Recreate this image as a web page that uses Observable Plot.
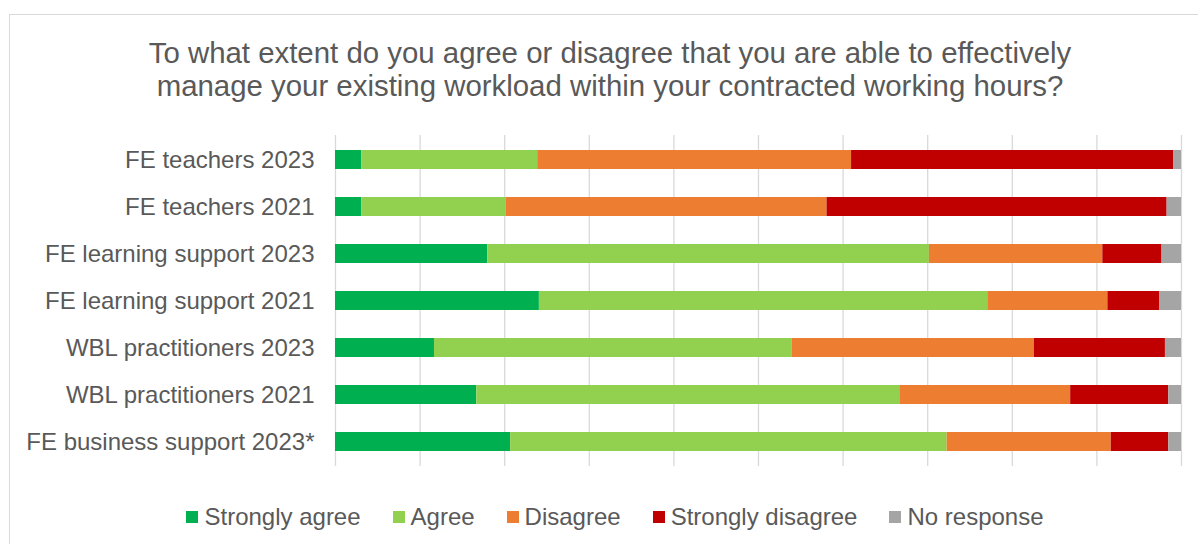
<!DOCTYPE html>
<html>
<head>
<meta charset="utf-8">
<script src="https://cdn.jsdelivr.net/npm/d3@7"></script>
<script src="https://cdn.jsdelivr.net/npm/@observablehq/plot@0.6"></script>
<style>
  html, body { margin: 0; padding: 0; background: #fff; }
  body { width: 1198px; height: 544px; position: relative; overflow: hidden; font-family: "Liberation Sans", Arial, sans-serif; color: #595959; }
  #frame { position: absolute; left: 9px; top: 14px; width: 1300px; height: 700px; border: 1px solid #d9d9d9; box-sizing: border-box; }
  #title { position: absolute; left: 9px; width: 1202px; top: 36px; text-align: center; font-size: 29.4px; line-height: 33.4px; color: #595959; white-space: nowrap; }
  #chart { position: absolute; left: 0; top: 0; }
  #legend { position: absolute; left: 0; width: 1230px; top: 503px; display: flex; justify-content: center; font-size: 24px; line-height: 28px; color: #595959; }
  .item { display: flex; align-items: center; margin: 0 16px; }
  .sw { width: 12px; height: 12px; margin-right: 6px; }
</style>
</head>
<body>
<div id="frame"></div>
<div id="title">To what extent do you agree or disagree that you are able to effectively<br>manage your existing workload within your contracted working hours?</div>
<div id="chart"></div>
<div id="legend"></div>
<script>
const categories = ["FE teachers 2023", "FE teachers 2021", "FE learning support 2023", "FE learning support 2021", "WBL practitioners 2023", "WBL practitioners 2021", "FE business support 2023*"];
const responses = ["Strongly agree", "Agree", "Disagree", "Strongly disagree", "No response"];
const colors = ["#00B050", "#92D050", "#ED7D31", "#C00000", "#A5A5A5"];
const stronglyAgree    = [3.1, 3.1, 18.0, 24.1, 11.7, 16.7, 20.7];
const agree            = [20.8, 17.1, 52.2, 53.0, 42.3, 50.0, 51.6];
const disagree         = [37.1, 37.9, 20.5, 14.2, 28.6, 20.2, 19.4];
const stronglyDisagree = [38.1, 40.2, 7.0, 6.1, 15.5, 11.6, 6.8];
const noResponse       = [0.9, 1.7, 2.3, 2.6, 1.9, 1.5, 1.5];
const gridTicks = [0, 10, 20, 30, 40, 50, 60, 70, 80, 90, 100];

const series = [stronglyAgree, agree, disagree, stronglyDisagree, noResponse];
const data = [];
categories.forEach((c, i) => {
  responses.forEach((r, j) => data.push({category: c, response: r, value: series[j][i]}));
});

const chart = Plot.plot({
  width: 1198,
  height: 490,
  marginLeft: 335,
  marginRight: 17,
  marginTop: 135,
  marginBottom: 24,
  style: {fontFamily: "Liberation Sans, Arial, sans-serif", fontSize: "24px", color: "#595959", background: "transparent"},
  x: {domain: [0, 100], axis: null},
  y: {domain: categories, paddingInner: 0.6, paddingOuter: 0.3, label: null},
  color: {domain: responses, range: colors},
  marks: [
    Plot.gridX(gridTicks, {stroke: "#d9d9d9", strokeOpacity: 1, strokeWidth: 1.3}),
    Plot.barX(data, {x: "value", y: "category", fill: "response", order: null}),
    Plot.axisY({tickSize: 0, tickPadding: 21, label: null, fill: "#595959"})
  ]
});
document.getElementById("chart").appendChild(chart);

const legend = document.getElementById("legend");
responses.forEach((r, j) => {
  const it = document.createElement("div");
  it.className = "item";
  const sw = document.createElement("span");
  sw.className = "sw";
  sw.style.background = colors[j];
  const tx = document.createElement("span");
  tx.textContent = r;
  it.appendChild(sw);
  it.appendChild(tx);
  legend.appendChild(it);
});
</script>
</body>
</html>
